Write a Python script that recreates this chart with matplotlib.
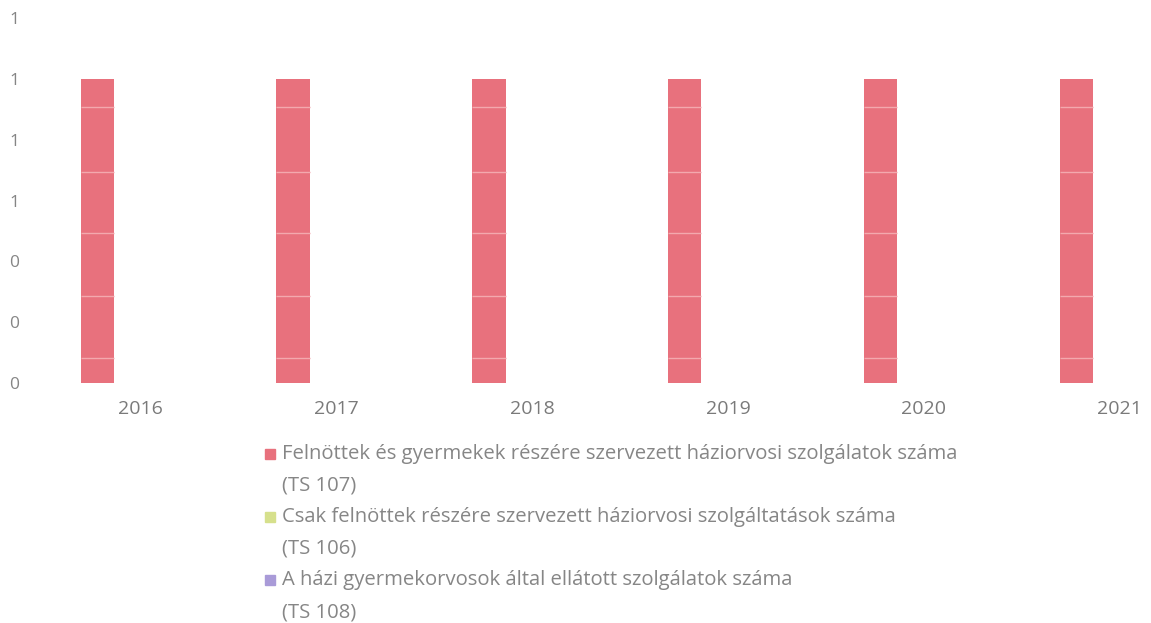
import matplotlib
matplotlib.use("Agg")
import matplotlib.pyplot as plt
import numpy as np
from matplotlib.patches import Rectangle

plt.rcParams['font.family'] = ['Open Sans', 'DejaVu Sans']

# adatok
years = ['2016', '2017', '2018', '2019', '2020', '2021']
ts107 = [1, 1, 1, 1, 1, 1]
ts106 = [0, 0, 0, 0, 0, 0]
ts108 = [0, 0, 0, 0, 0, 0]
labels = ['Felnöttek és gyermekek részére szervezett háziorvosi szolgálatok száma\n(TS 107)',
          'Csak felnöttek részére szervezett háziorvosi szolgáltatások száma\n(TS 106)',
          'A házi gyermekorvosok által ellátott szolgálatok száma\n(TS 108)']
colors = ['#e8717d', '#d6e08c', '#a99bd8']
inner_lines = [0.083, 0.287, 0.492, 0.693, 0.907]  # halvany vonalak az oszlopokban

W, H = 1151, 623
fig = plt.figure(figsize=(W / 100, H / 100), dpi=100)
ax = fig.add_axes([0.03, 0.385, 0.97, 0.586])

x = np.arange(len(years))
w = 0.17
off = 0.22
ax.bar(x - off, ts107, w, color=colors[0], zorder=2)
ax.bar(x, ts106, w, color=colors[1], zorder=2)
ax.bar(x + off, ts108, w, color=colors[2], zorder=2)

# vilagos vizszintes vonalak csak az oszlopokon
for v in inner_lines:
    ax.hlines([v] * len(x), x - off - w / 2, x - off + w / 2, color='#f3a9ae', lw=1, zorder=3)

ax.set_ylim(0, 1.2)
ax.set_yticks(np.arange(0, 1.21, 0.2))
ax.set_yticklabels(['%.0f' % t for t in np.arange(0, 1.21, 0.2)])
ax.set_xticks(x)
ax.set_xticklabels(years)
ax.set_xlim(-0.54, 5.16)
ax.tick_params(axis='y', length=0, colors='#858585', labelsize=12.5, pad=11)
ax.tick_params(axis='x', length=0, colors='#7a7a7a', labelsize=14, pad=12)
for s in ax.spines.values():
    s.set_visible(False)

# jelmagyarazat kezzel, hogy a negyzet az elso sorhoz igazodjon
line_y = 454
pitch = 31.6
for lab, c in zip(labels, colors):
    parts = lab.split('\n')
    fig.patches.append(Rectangle((265 / W, 1 - (line_y + 5) / H), 10 / W, 10 / H,
                                 color=c, transform=fig.transFigure))
    for p in parts:
        fig.text(282 / W, 1 - line_y / H, p, fontsize=14.6, color='#868686',
                 va='center', ha='left')
        line_y += pitch

fig.savefig('out.png', dpi=100)
